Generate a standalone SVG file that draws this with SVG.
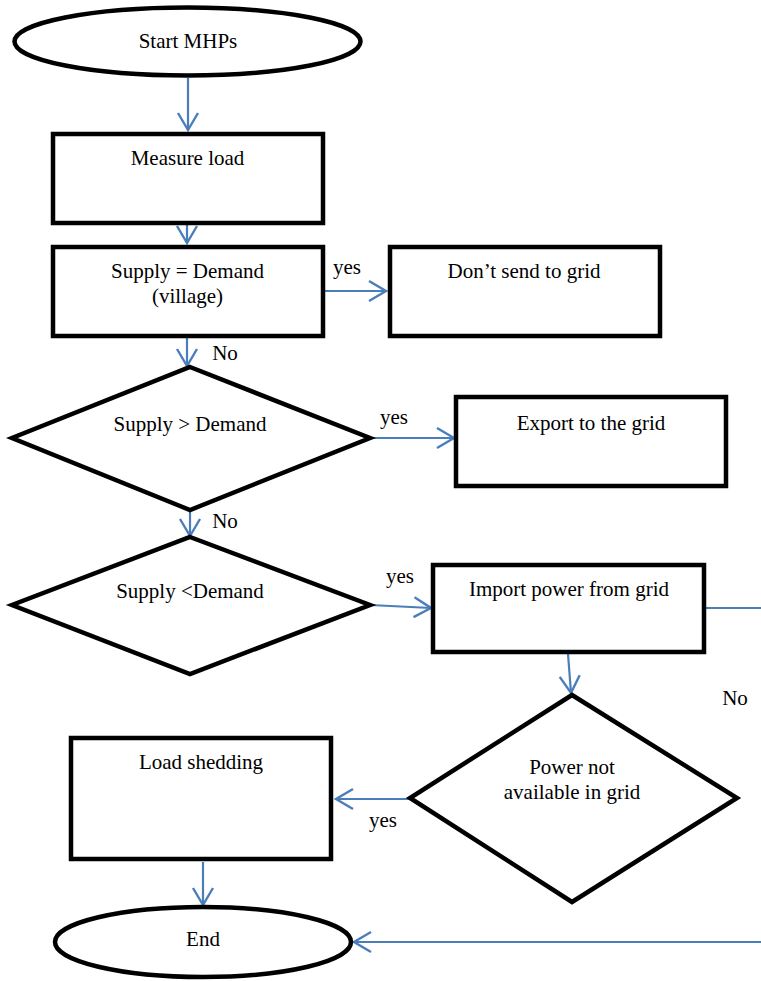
<svg xmlns="http://www.w3.org/2000/svg" width="761" height="981" viewBox="0 0 761 981">
  <style>
    .shape { fill: #ffffff; stroke: #000000; stroke-width: 4.5; }
    .lbl { font-family: "Liberation Serif", "Times New Roman", serif; font-size: 21px; fill: #000000; text-anchor: middle; }
    .edge { stroke: #4a7ebb; stroke-width: 2.2; fill: none; }
  </style>
  <defs>
    <marker id="arrow" markerUnits="userSpaceOnUse" markerWidth="24" markerHeight="24" viewBox="-20 -12 22 24" refX="0" refY="0" orient="auto" overflow="visible">
      <path d="M-17,-10 L0,0 L-17,10" fill="none" stroke="#4a7ebb" stroke-width="2.4"/>
    </marker>
  </defs>

  <!-- connectors -->
  <g id="connectors">
    <line class="edge" x1="188" y1="78" x2="188" y2="130" marker-end="url(#arrow)"/>
    <line class="edge" x1="187" y1="225" x2="187" y2="243" marker-end="url(#arrow)"/>
    <line class="edge" x1="322" y1="291" x2="386" y2="291" marker-end="url(#arrow)"/>
    <line class="edge" x1="187" y1="338" x2="187" y2="366" marker-end="url(#arrow)"/>
    <line class="edge" x1="372" y1="438" x2="454" y2="438" marker-end="url(#arrow)"/>
    <line class="edge" x1="190" y1="512" x2="190" y2="536" marker-end="url(#arrow)"/>
    <line class="edge" x1="370" y1="605" x2="431" y2="608" marker-end="url(#arrow)"/>
    <line class="edge" x1="706" y1="608" x2="761" y2="608"/>
    <line class="edge" x1="568" y1="654" x2="571" y2="693" marker-end="url(#arrow)"/>
    <line class="edge" x1="409" y1="799" x2="336" y2="799" marker-end="url(#arrow)"/>
    <line class="edge" x1="203" y1="862" x2="203" y2="905" marker-end="url(#arrow)"/>
    <line class="edge" x1="761" y1="942" x2="354" y2="942" marker-end="url(#arrow)"/>
    <text class="lbl" x="347" y="274">yes</text>
    <text class="lbl" x="225" y="360">No</text>
    <text class="lbl" x="394" y="424">yes</text>
    <text class="lbl" x="225" y="528">No</text>
    <text class="lbl" x="400" y="583">yes</text>
    <text class="lbl" x="735" y="705">No</text>
    <text class="lbl" x="383" y="827">yes</text>
  </g>

  <g id="start">
    <ellipse class="shape" cx="187.5" cy="41.5" rx="173" ry="34"/>
    <text class="lbl" x="188" y="48">Start MHPs</text>
  </g>

  <g id="measure-load">
    <rect class="shape" x="53" y="134" width="270" height="89"/>
    <text class="lbl" x="187.5" y="165">Measure load</text>
  </g>

  <g id="supply-equals-demand">
    <rect class="shape" x="53" y="247" width="270" height="89"/>
    <text class="lbl" x="187.5" y="278">Supply = Demand</text>
    <text class="lbl" x="187.5" y="303">(village)</text>
  </g>

  <g id="dont-send">
    <rect class="shape" x="390" y="247" width="270" height="89"/>
    <text class="lbl" x="524" y="278">Don’t send to grid</text>
  </g>

  <g id="supply-gt-demand">
    <polygon class="shape" points="190,367 370,438 190,510 12,438"/>
    <text class="lbl" x="190" y="431">Supply &gt; Demand</text>
  </g>

  <g id="export">
    <rect class="shape" x="456" y="397" width="270" height="89"/>
    <text class="lbl" x="591" y="430">Export to the grid</text>
  </g>

  <g id="supply-lt-demand">
    <polygon class="shape" points="190,537 370,605 190,674 12,605"/>
    <text class="lbl" x="190" y="598">Supply &lt;Demand</text>
  </g>

  <g id="import">
    <rect class="shape" x="433" y="565" width="271" height="87"/>
    <text class="lbl" x="569" y="596">Import power from grid</text>
  </g>

  <g id="power-not-available">
    <polygon class="shape" points="572,695 737,798 572,902 410,798"/>
    <text class="lbl" x="572" y="774">Power not</text>
    <text class="lbl" x="572" y="799">available in grid</text>
  </g>

  <g id="load-shedding">
    <rect class="shape" x="71" y="738" width="260" height="121"/>
    <text class="lbl" x="201" y="769">Load shedding</text>
  </g>

  <g id="end">
    <ellipse class="shape" cx="203" cy="942" rx="148" ry="35"/>
    <text class="lbl" x="203" y="946">End</text>
  </g>
</svg>
